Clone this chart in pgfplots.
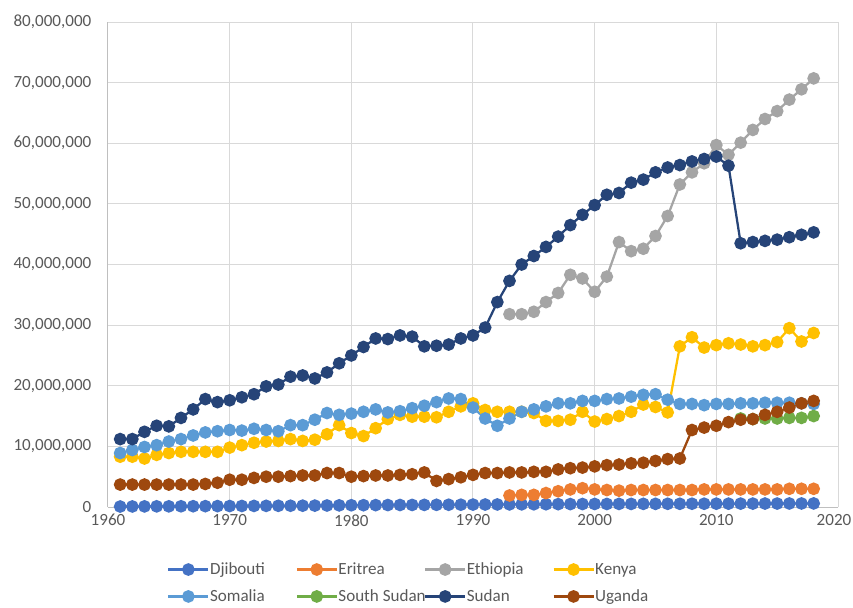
\documentclass[border=0pt]{standalone}
\usepackage{pgfplots}
\pgfplotsset{compat=1.18}
\usepackage{fontspec}
\setmainfont{Carlito}
\definecolor{cDji}{HTML}{4472C4}
\definecolor{cEri}{HTML}{ED7D31}
\definecolor{cEth}{HTML}{A5A5A5}
\definecolor{cKen}{HTML}{FFC000}
\definecolor{cSom}{HTML}{5B9BD5}
\definecolor{cSSu}{HTML}{70AD47}
\definecolor{cSud}{HTML}{264478}
\definecolor{cUga}{HTML}{9E480E}
\definecolor{gridc}{HTML}{D9D9D9}
\definecolor{axc}{HTML}{BFBFBF}
\definecolor{txt}{HTML}{595959}
\begin{document}
\begin{tikzpicture}
\begin{axis}[
  at={(0,0)}, anchor=south west,
  scale only axis, width=547.5pt, height=363.75pt,
  xmin=1960, xmax=2020, ymin=0, ymax=80,
  xtick={1960,1970,1980,1990,2000,2010,2020},
  xticklabels={1960,1970,1980,1990,2000,2010,\hspace*{-6pt}2020},
  ytick={0,10,20,30,40,50,60,70,80},
  yticklabels={0,{10,000,000},{20,000,000},{30,000,000},{40,000,000},{50,000,000},{60,000,000},{70,000,000},{80,000,000}},
  grid=major, major grid style={color=gridc, line width=0.75pt},
  axis x line*=bottom, axis y line*=left,
  axis line style={color=axc, line width=0.75pt, -},
  major tick length=0pt,
  tick label style={font=\fontsize{12.8pt}{15pt}\selectfont, text=txt},
  yticklabel style={xshift=-9pt},
  xticklabel style={yshift=-2pt},
  legend columns=4,
  legend cell align=left,
  legend style={at={(axis description cs:0.0808,-0.113)}, anchor=north west,
    draw=none, fill=none, inner sep=0pt, row sep=9pt, column sep=0pt,
    nodes={inner sep=0.4pt}, font=\fontsize{12.8pt}{15pt}\selectfont, text=txt},
  legend image code/.code={\draw[mark repeat=2,mark phase=2,#1] plot coordinates {(0pt,0pt) (15pt,0pt) (30pt,0pt)};},
  every axis plot/.append style={line width=1.7pt, mark=*, mark size=3.9pt},
]
\coordinate (bl) at (rel axis cs:0,0);
% Djibouti
\addplot[color=cDji, mark options={solid, fill=cDji, draw=cDji}] coordinates {
(1961,0.08)(1962,0.09)(1963,0.10)(1964,0.11)(1965,0.11)(1966,0.12)(1967,0.13)(1968,0.14)(1969,0.15)(1970,0.16)
(1971,0.17)(1972,0.18)(1973,0.19)(1974,0.20)(1975,0.21)(1976,0.22)(1977,0.23)(1978,0.25)(1979,0.27)(1980,0.29)
(1981,0.30)(1982,0.31)(1983,0.32)(1984,0.33)(1985,0.34)(1986,0.35)(1987,0.36)(1988,0.37)(1989,0.38)(1990,0.40)
(1991,0.41)(1992,0.42)(1993,0.43)(1994,0.44)(1995,0.45)(1996,0.46)(1997,0.47)(1998,0.48)(1999,0.49)(2000,0.50)
(2001,0.50)(2002,0.51)(2003,0.51)(2004,0.52)(2005,0.52)(2006,0.53)(2007,0.53)(2008,0.54)(2009,0.54)(2010,0.55)
(2011,0.55)(2012,0.56)(2013,0.56)(2014,0.57)(2015,0.57)(2016,0.58)(2017,0.58)(2018,0.59)};
\addlegendentry{\makebox[63.8pt][l]{Djibouti}}
% Eritrea
\addplot[color=cEri, mark options={solid, fill=cEri, draw=cEri}] coordinates {
(1993,1.9)(1994,2.0)(1995,2.0)(1996,2.3)(1997,2.6)(1998,2.9)(1999,3.1)(2000,2.9)
(2001,2.8)(2002,2.7)(2003,2.8)(2004,2.8)(2005,2.8)(2006,2.8)(2007,2.8)(2008,2.8)(2009,2.9)(2010,2.9)
(2011,2.9)(2012,2.9)(2013,2.9)(2014,2.9)(2015,2.9)(2016,3.0)(2017,3.0)(2018,3.0)};
\addlegendentry{\makebox[63.8pt][l]{Eritrea}}
% Ethiopia
\addplot[color=cEth, mark options={solid, fill=cEth, draw=cEth}] coordinates {
(1993,31.8)(1994,31.8)(1995,32.2)(1996,33.8)(1997,35.3)(1998,38.3)(1999,37.7)(2000,35.5)
(2001,38.0)(2002,43.7)(2003,42.2)(2004,42.6)(2005,44.7)(2006,48.0)(2007,53.2)(2008,55.2)(2009,56.7)(2010,59.7)
(2011,58.1)(2012,60.1)(2013,62.2)(2014,64.0)(2015,65.3)(2016,67.2)(2017,68.9)(2018,70.7)};
\addlegendentry{\makebox[63.8pt][l]{Ethiopia}}
% Kenya
\addplot[color=cKen, mark options={solid, fill=cKen, draw=cKen}] coordinates {
(1961,8.3)(1962,8.3)(1963,8.0)(1964,8.6)(1965,8.9)(1966,9.1)(1967,9.1)(1968,9.1)(1969,9.1)(1970,9.8)
(1971,10.2)(1972,10.6)(1973,10.8)(1974,10.9)(1975,11.2)(1976,10.9)(1977,11.1)(1978,12.0)(1979,13.5)(1980,12.2)
(1981,11.7)(1982,13.0)(1983,14.5)(1984,15.2)(1985,14.9)(1986,14.9)(1987,14.8)(1988,15.7)(1989,16.6)(1990,17.1)
(1991,16.0)(1992,15.7)(1993,15.7)(1994,15.7)(1995,15.5)(1996,14.2)(1997,14.2)(1998,14.4)(1999,15.7)(2000,14.1)
(2001,14.5)(2002,15.0)(2003,15.7)(2004,16.9)(2005,16.5)(2006,15.6)(2007,26.5)(2008,28.0)(2009,26.3)(2010,26.7)
(2011,27.0)(2012,26.8)(2013,26.5)(2014,26.7)(2015,27.2)(2016,29.5)(2017,27.3)(2018,28.7)};
\addlegendentry{\makebox[63.8pt][l]{Kenya}}
% Somalia
\addplot[color=cSom, mark options={solid, fill=cSom, draw=cSom}] coordinates {
(1961,8.9)(1962,9.4)(1963,9.9)(1964,10.2)(1965,10.8)(1966,11.2)(1967,11.8)(1968,12.3)(1969,12.5)(1970,12.7)
(1971,12.6)(1972,12.9)(1973,12.7)(1974,12.5)(1975,13.5)(1976,13.5)(1977,14.4)(1978,15.5)(1979,15.2)(1980,15.4)
(1981,15.7)(1982,16.1)(1983,15.6)(1984,15.8)(1985,16.3)(1986,16.7)(1987,17.3)(1988,17.9)(1989,17.8)(1990,16.4)
(1991,14.6)(1992,13.4)(1993,14.6)(1994,15.7)(1995,16.1)(1996,16.6)(1997,17.1)(1998,17.1)(1999,17.5)(2000,17.5)
(2001,17.8)(2002,17.9)(2003,18.2)(2004,18.5)(2005,18.6)(2006,17.7)(2007,17.0)(2008,17.0)(2009,16.8)(2010,17.0)
(2011,17.0)(2012,17.1)(2013,17.1)(2014,17.2)(2015,17.2)(2016,17.2)(2017,17.1)(2018,17.0)};
\addlegendentry{\makebox[63.8pt][l]{Somalia}}
% South Sudan
\addplot[color=cSSu, mark options={solid, fill=cSSu, draw=cSSu}] coordinates {
(2012,14.6)(2013,14.5)(2014,14.6)(2015,14.6)(2016,14.7)(2017,14.7)(2018,15.0)};
\addlegendentry{\makebox[63.8pt][l]{South Sudan}}
% Sudan
\addplot[color=cSud, mark options={solid, fill=cSud, draw=cSud}] coordinates {
(1961,11.2)(1962,11.2)(1963,12.4)(1964,13.4)(1965,13.3)(1966,14.7)(1967,16.1)(1968,17.8)(1969,17.3)(1970,17.6)
(1971,18.1)(1972,18.6)(1973,19.9)(1974,20.2)(1975,21.5)(1976,21.7)(1977,21.2)(1978,22.2)(1979,23.7)(1980,25.0)
(1981,26.4)(1982,27.8)(1983,27.7)(1984,28.3)(1985,28.1)(1986,26.5)(1987,26.6)(1988,26.8)(1989,27.8)(1990,28.3)
(1991,29.6)(1992,33.8)(1993,37.3)(1994,40.0)(1995,41.4)(1996,42.9)(1997,44.6)(1998,46.5)(1999,48.2)(2000,49.8)
(2001,51.5)(2002,51.8)(2003,53.5)(2004,54.0)(2005,55.2)(2006,56.0)(2007,56.4)(2008,57.0)(2009,57.4)(2010,57.8)
(2011,56.3)(2012,43.5)(2013,43.7)(2014,43.9)(2015,44.1)(2016,44.5)(2017,44.9)(2018,45.3)};
\addlegendentry{\makebox[63.8pt][l]{Sudan}}
% Uganda
\addplot[color=cUga, mark options={solid, fill=cUga, draw=cUga}] coordinates {
(1961,3.7)(1962,3.7)(1963,3.7)(1964,3.7)(1965,3.7)(1966,3.7)(1967,3.7)(1968,3.8)(1969,4.0)(1970,4.5)
(1971,4.5)(1972,4.8)(1973,5.0)(1974,5.0)(1975,5.1)(1976,5.2)(1977,5.2)(1978,5.6)(1979,5.6)(1980,5.0)
(1981,5.1)(1982,5.2)(1983,5.2)(1984,5.3)(1985,5.4)(1986,5.7)(1987,4.3)(1988,4.6)(1989,4.9)(1990,5.3)
(1991,5.6)(1992,5.6)(1993,5.7)(1994,5.7)(1995,5.8)(1996,5.8)(1997,6.2)(1998,6.4)(1999,6.5)(2000,6.7)
(2001,6.9)(2002,7.0)(2003,7.2)(2004,7.3)(2005,7.6)(2006,7.9)(2007,8.0)(2008,12.7)(2009,13.1)(2010,13.4)
(2011,14.0)(2012,14.4)(2013,14.5)(2014,15.2)(2015,15.7)(2016,16.4)(2017,17.1)(2018,17.5)};
\addlegendentry{\makebox[63.8pt][l]{Uganda}}
\end{axis}
\pgfresetboundingbox
\path[use as bounding box] ([shift={(-81pt,-75pt)}]bl) rectangle ([shift={(558.75pt,380.25pt)}]bl);
\end{tikzpicture}
\end{document}
